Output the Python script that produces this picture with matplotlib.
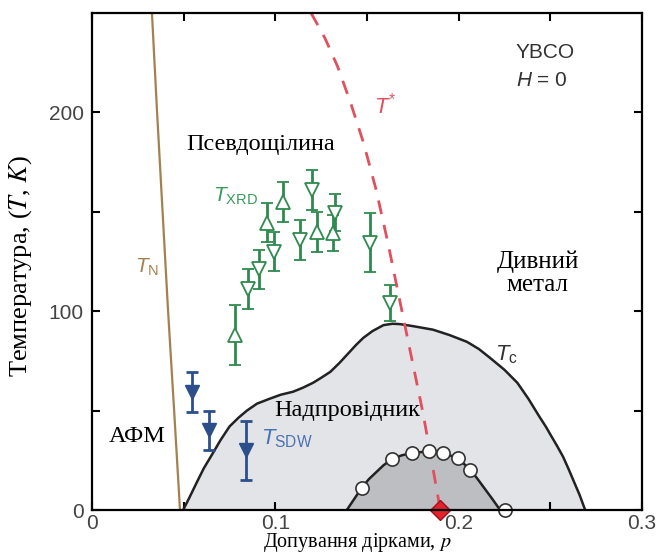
import matplotlib
matplotlib.use("Agg")
import matplotlib.pyplot as plt
import numpy as np

plt.rcParams['mathtext.fontset'] = 'custom'
plt.rcParams['mathtext.rm'] = 'Liberation Sans'
plt.rcParams['mathtext.it'] = 'Liberation Sans:italic'

# --- data ---
# Neel temperature line
tn_p = [0.0327, 0.0355, 0.0385, 0.0415, 0.0448, 0.048]
tn_T = [250, 200, 150, 100, 50, 0]

# T* (pseudogap) dashed line
ts_p = [0.1195, 0.127, 0.134, 0.141, 0.148, 0.155, 0.1615, 0.1675, 0.174, 0.1805, 0.1852, 0.190]
ts_T = [250, 237.5, 223, 205, 185, 161, 134, 107, 78, 49, 25, 0]

# Tc dome
tc_p = [0.0497, 0.053, 0.057, 0.061, 0.066, 0.070, 0.075, 0.080, 0.0845, 0.090,
        0.097, 0.103, 0.1097, 0.115, 0.1206, 0.125, 0.13, 0.135, 0.139, 0.144,
        0.148, 0.153, 0.159, 0.164, 0.168, 0.175, 0.186, 0.195, 0.2045, 0.211,
        0.217, 0.225, 0.232, 0.238, 0.244, 0.2475, 0.250, 0.2535, 0.257, 0.260,
        0.263, 0.266, 0.269]
tc_T = [0, 6, 13.6, 21, 28.7, 35, 42, 46.5, 50, 53.5,
        56, 58, 59.5, 61.5, 64, 66.5, 69.5, 74, 78, 83,
        86.6, 90, 93, 93.7, 93.5, 92.5, 90.7, 88, 84.6, 81,
        76.6, 70.5, 64, 56, 47, 42, 38, 32.5, 26.7, 20.5,
        14, 7.5, 0]

# inner (charge order) dome line
cdw_line_p = [0.139, 0.143, 0.147, 0.151, 0.155, 0.159, 0.1637, 0.169, 0.1745, 0.184,
              0.1915, 0.1997, 0.206, 0.210, 0.214, 0.218, 0.2226]
cdw_line_T = [0, 5.5, 11, 15.5, 19, 22.5, 25.7, 27.5, 28.7, 29.5,
              28.7, 26, 20.5, 16, 11, 6, 0]

# open circles on the inner dome
circ_p = [0.147, 0.1637, 0.1745, 0.184, 0.1915, 0.1997, 0.206, 0.2253]
circ_T = [11, 25.7, 28.5, 29.5, 28.7, 26, 20, 0]

# T_XRD points (up / down triangles)
xrd_up_p = [0.078, 0.0955, 0.104, 0.1227, 0.1315]
xrd_up_T = [88, 144.6, 155, 140, 139.5]
xrd_up_err = [15, 10, 10, 10, 9]
xrd_dn_p = [0.085, 0.091, 0.099, 0.1135, 0.12, 0.1326, 0.1517, 0.1626]
xrd_dn_T = [111, 121, 130, 136, 161, 149.6, 134.5, 104]
xrd_dn_err = [10, 10, 10, 10, 10, 9.5, 15, 9]

# T_SDW points
sdw_p = [0.0545, 0.064, 0.084]
sdw_T = [59.5, 40, 30]
sdw_err = [10, 10, 15]

# QCP diamond
qcp_p = [0.19]
qcp_T = [0]

green = '#2e8a4e'
blue = '#2c4f8c'

fig = plt.figure(figsize=(6.58, 5.56), dpi=100)
ax = fig.add_axes([92/658, 1-510/556, 550/658, 497/556])

ax.fill_between(tc_p, tc_T, 0, color='#e3e4e7', lw=0, zorder=1)
ax.plot(tc_p, tc_T, color='#222222', lw=1.8, zorder=3)
ax.fill_between(cdw_line_p, cdw_line_T, 0, color='#bdbec2', lw=0, zorder=2)
ax.plot(cdw_line_p, cdw_line_T, color='#222222', lw=1.8, zorder=3)

ax.plot(tn_p, tn_T, color='#a3814f', lw=1.6, zorder=3)
ax.plot(ts_p, ts_T, color='#e0505e', lw=2, ls=(0, (5, 4)), zorder=4)

ax.errorbar(xrd_up_p, xrd_up_T, yerr=xrd_up_err, fmt='^', ms=10, mfc='white',
            mec=green, mew=1.3, ecolor=green, elinewidth=2, capsize=4, capthick=2, zorder=5)
ax.errorbar(xrd_dn_p, xrd_dn_T, yerr=xrd_dn_err, fmt='v', ms=10, mfc='white',
            mec=green, mew=1.3, ecolor=green, elinewidth=2, capsize=4, capthick=2, zorder=5)
ax.errorbar(sdw_p, sdw_T, yerr=sdw_err, fmt='v', ms=10, mfc=blue,
            mec=blue, ecolor=blue, elinewidth=2, capsize=4, capthick=2, zorder=5)

ax.plot(circ_p, circ_T, 'o', ms=9.5, mfc='white', mec='#333333', mew=1.2,
        zorder=6, clip_on=False)
ax.plot(qcp_p, qcp_T, 'D', ms=10, mfc='#e3222e', mec='#a01018', mew=1,
        zorder=7, clip_on=False)

ax.set_xlim(0, 0.3)
ax.set_ylim(0, 250)
ax.set_xticks([0, 0.05, 0.1, 0.15, 0.2, 0.25, 0.3])
ax.set_xticklabels(['0', '', '0.1', '', '0.2', '', '0.3'])
ax.set_yticks([0, 50, 100, 150, 200])
ax.set_yticklabels(['0', '', '100', '', '200'])
ax.tick_params(direction='in', length=6, width=1.5, top=True, right=True,
               labelsize=15, labelcolor='#444444')
ax.tick_params(axis='x', pad=3)
ax.tick_params(axis='y', pad=6)
for lab in ax.get_xticklabels() + ax.get_yticklabels():
    lab.set_family('Liberation Sans')
for s in ax.spines.values():
    s.set_linewidth(1.6)
    s.set_zorder(8)

serif = 'Liberation Serif'
ax.set_ylabel('Температура, ($T$, $K$)', family=serif, fontsize=19,
              math_fontfamily='stix')
ax.yaxis.set_label_coords(-0.105, 0.49)
ax.set_xlabel('Допування дірками, $p$', family=serif, fontsize=14.5,
              math_fontfamily='stix')
ax.xaxis.set_label_coords(0.482, -0.043)

ax.text(0.231, 230, 'YBCO', family='Liberation Sans', fontsize=15, color='#333333',
        va='center')
ax.text(0.231, 216, '$H$ = 0', family='Liberation Sans', fontsize=15, color='#333333',
        va='center')
ax.text(0.154, 204, r'$T^{*}$', fontsize=16, color='#e0505e', va='center')
ax.text(0.092, 184, 'Псевдощілина', family=serif, fontsize=17.5, ha='center', va='center')
ax.text(0.066, 158, r'$T_{\mathrm{XRD}}$', fontsize=15, color='#3a9a5c', va='center')
ax.text(0.0235, 122, r'$T_{\mathrm{N}}$', fontsize=15, color='#a3814f', va='center')
ax.text(0.243, 125, 'Дивний', family=serif, fontsize=18, ha='center', va='center')
ax.text(0.243, 113, 'метал', family=serif, fontsize=18, ha='center', va='center')
ax.text(0.220, 78, r'$T_{\mathrm{c}}$', fontsize=16, color='#333333', va='center')
ax.text(0.139, 50, 'Надпровідник', family=serif, fontsize=17.5, ha='center', va='center')
ax.text(0.092, 36, r'$T_{\mathrm{SDW}}$', fontsize=16, color='#4a72b2', va='center')
ax.text(0.0245, 37, 'АФМ', family=serif, fontsize=17.5, ha='center', va='center')

fig.savefig('out.png', dpi=100)
